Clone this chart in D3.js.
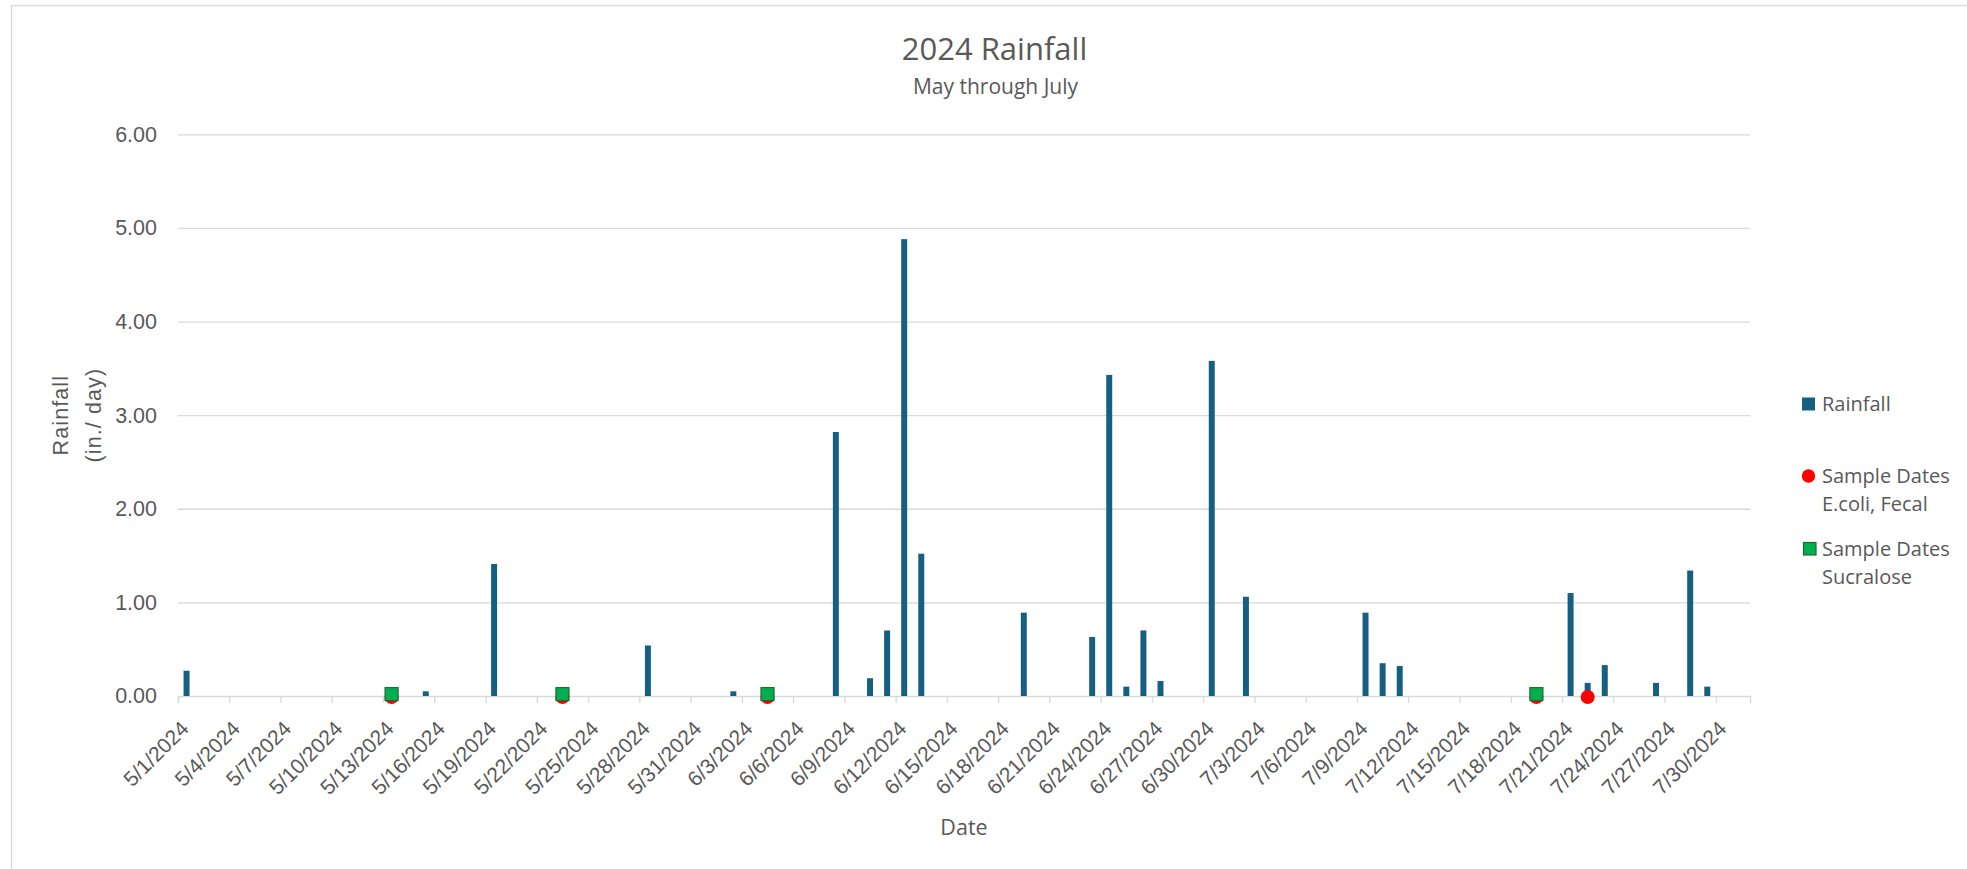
<!DOCTYPE html>
<html><head><meta charset="utf-8">
<script src="https://cdn.jsdelivr.net/npm/d3@7"></script>
<style>body{margin:0;background:#fff} svg{display:block}</style>
</head><body>
<svg id="chart" width="1967" height="869"></svg>
<script>
// ---- data ----
const rainDates = ["2024-05-01","2024-05-15","2024-05-19","2024-05-28","2024-06-02","2024-06-08","2024-06-10","2024-06-11","2024-06-12","2024-06-13","2024-06-19","2024-06-23","2024-06-24","2024-06-25","2024-06-26","2024-06-27","2024-06-30","2024-07-02","2024-07-09","2024-07-10","2024-07-11","2024-07-21","2024-07-22","2024-07-23","2024-07-26","2024-07-28","2024-07-29"];
const rainValues = [0.27,0.05,1.41,0.54,0.05,2.82,0.19,0.70,4.88,1.52,0.89,0.63,3.43,0.10,0.70,0.16,3.58,1.06,0.89,0.35,0.32,1.10,0.14,0.33,0.14,1.34,0.10];
const ecoliDates = ["2024-05-13","2024-05-23","2024-06-04","2024-07-19","2024-07-22"];
const ecoliValues = [0,0,0,0,0];
const sucraloseDates = ["2024-05-13","2024-05-23","2024-06-04","2024-07-19"];
const sucraloseValues = [0.02,0.02,0.02,0.02];
const yTicks = [0,1,2,3,4,5,6];
const yTickLabels = ["0.00","1.00","2.00","3.00","4.00","5.00","6.00"];
const xTickLabels = ["5/1/2024","5/4/2024","5/7/2024","5/10/2024","5/13/2024","5/16/2024","5/19/2024","5/22/2024","5/25/2024","5/28/2024","5/31/2024","6/3/2024","6/6/2024","6/9/2024","6/12/2024","6/15/2024","6/18/2024","6/21/2024","6/24/2024","6/27/2024","6/30/2024","7/3/2024","7/6/2024","7/9/2024","7/12/2024","7/15/2024","7/18/2024","7/21/2024","7/24/2024","7/27/2024","7/30/2024"];
const periodStart = "2024-05-01", periodEnd = "2024-08-01";
const seriesNames = [["Rainfall"],["Sample Dates","E.coli, Fecal"],["Sample Dates","Sucralose"]];
const titleText = "2024 Rainfall", subtitleText = "May through July";
const xTitle = "Date", yTitle = ["Rainfall","(in./ day)"];

// ---- layout ----
const L = 178, R = 1750, T = 134.3, B = 696;
const textColor = "#595959", gridColor = "#d9d9d9";
const barColor = "#156082", red = "#ff0000", green = "#00b050", greenStroke = "#1b6b33";
const sansTitle = "'Open Sans', 'Noto Sans', sans-serif";
const sansAxis = "'Liberation Sans', Arial, sans-serif";

const svg = d3.select("#chart");
const parse = d3.utcParse("%Y-%m-%d");
const parseLbl = d3.utcParse("%m/%d/%Y");
const x = d3.scaleUtc().domain([parse(periodStart), parse(periodEnd)]).range([L, R]);
const step = x(d3.utcDay.offset(parse(periodStart), 1)) - x(parse(periodStart));
const barW = step * 0.35;
const y = d3.scaleLinear().domain([0, 6]).range([B, T]);

// outer border
svg.append("rect").attr("x", 11.5).attr("y", 5.5).attr("width", 2000).attr("height", 900)
  .attr("fill", "#fff").attr("stroke", gridColor).attr("stroke-width", 1.3);

// gridlines
const grid = svg.append("g").attr("transform", `translate(${L},0)`)
  .call(d3.axisLeft(y).tickValues(yTicks.slice(1)).tickSize(-(R - L)).tickFormat(""));
grid.select(".domain").remove();
grid.selectAll("line").attr("stroke", gridColor).attr("stroke-width", 1.3);

// y axis labels
const ya = svg.append("g").attr("transform", `translate(${L},0)`)
  .call(d3.axisLeft(y).tickValues(yTicks).tickSize(0).tickPadding(21).tickFormat((d, i) => yTickLabels[i]));
ya.select(".domain").remove();
ya.selectAll("text").attr("fill", textColor).style("font-family", sansAxis).style("font-size", "21.5px");

// x axis
const tickDates = xTickLabels.map(s => parseLbl(s));
const xa = svg.append("g").attr("transform", `translate(0,${B})`)
  .call(d3.axisBottom(x).tickValues(tickDates).tickSize(7).tickFormat((d, i) => xTickLabels[i]));
xa.select(".domain").attr("stroke", gridColor).attr("stroke-width", 1.5);
xa.selectAll("line").attr("stroke", gridColor).attr("stroke-width", 1.3);
xa.selectAll("text").attr("fill", textColor).style("font-family", sansAxis).style("font-size", "21px")
  .attr("y", 0).attr("dy", 0).attr("text-anchor", "end")
  .attr("transform", `translate(${step / 2 + 3},34) rotate(-45)`);

// bars
const rain = rainDates.map((d, i) => ({ date: parse(d), v: rainValues[i] }));
svg.append("g").selectAll("rect").data(rain).join("rect")
  .attr("x", d => x(d.date) + (step - barW) / 2)
  .attr("width", barW)
  .attr("y", d => y(d.v))
  .attr("height", d => y(0) - y(d.v))
  .attr("fill", barColor);

// E.coli circles
const ecoli = ecoliDates.map((d, i) => ({ date: parse(d), v: ecoliValues[i] }));
svg.append("g").selectAll("circle").data(ecoli).join("circle")
  .attr("cx", d => x(d.date) + step / 2)
  .attr("cy", d => y(d.v) + 1)
  .attr("r", 7)
  .attr("fill", red);

// Sucralose squares
const suc = sucraloseDates.map((d, i) => ({ date: parse(d), v: sucraloseValues[i] }));
const sq = 13;
svg.append("g").selectAll("rect").data(suc).join("rect")
  .attr("x", d => x(d.date) + step / 2 - sq / 2)
  .attr("y", d => y(d.v) - sq / 2)
  .attr("width", sq).attr("height", sq)
  .attr("fill", green).attr("stroke", greenStroke).attr("stroke-width", 1.2);

// titles
svg.append("text").attr("x", 994.5).attr("y", 59.5).attr("text-anchor", "middle")
  .style("font-family", sansTitle).style("font-size", "31px").attr("fill", textColor).text(titleText);
svg.append("text").attr("x", 995.5).attr("y", 94).attr("text-anchor", "middle")
  .style("font-family", sansTitle).style("font-size", "21px").attr("fill", textColor).text(subtitleText);
svg.append("text").attr("x", (L + R) / 2).attr("y", 835).attr("text-anchor", "middle")
  .style("font-family", sansTitle).style("font-size", "21.5px").attr("fill", textColor).text(xTitle);

// y title
const yt = svg.append("text").attr("transform", `translate(0,${(T + B) / 2}) rotate(-90)`)
  .attr("text-anchor", "middle").attr("fill", textColor)
  .style("font-family", sansAxis).style("font-size", "21.5px").style("letter-spacing", "1.1px");
yt.selectAll("tspan").data(yTitle).join("tspan")
  .attr("x", 0).attr("y", (d, i) => i === 0 ? 67.5 : 100.5).text(d => d);

// legend
const lg = svg.append("g").style("font-family", sansTitle).style("font-size", "20px").attr("fill", textColor);
const legendY = [404, 476, 549];
lg.append("rect").attr("x", 1802).attr("y", legendY[0] - 6.5).attr("width", 13).attr("height", 13).attr("fill", barColor);
lg.append("circle").attr("cx", 1808.5).attr("cy", legendY[1]).attr("r", 6.7).attr("fill", red);
lg.append("rect").attr("x", 1803.5).attr("y", legendY[2] - 6.5).attr("width", 12.5).attr("height", 12.5)
  .attr("fill", green).attr("stroke", greenStroke).attr("stroke-width", 1.2);
seriesNames.forEach((lines, i) => {
  const t = lg.append("text").attr("x", 1822).attr("y", legendY[i] + 6.5);
  lines.forEach((s, j) => t.append("tspan").attr("x", 1822).attr("dy", j === 0 ? 0 : 28.5).text(s));
});
</script>
</body></html>
